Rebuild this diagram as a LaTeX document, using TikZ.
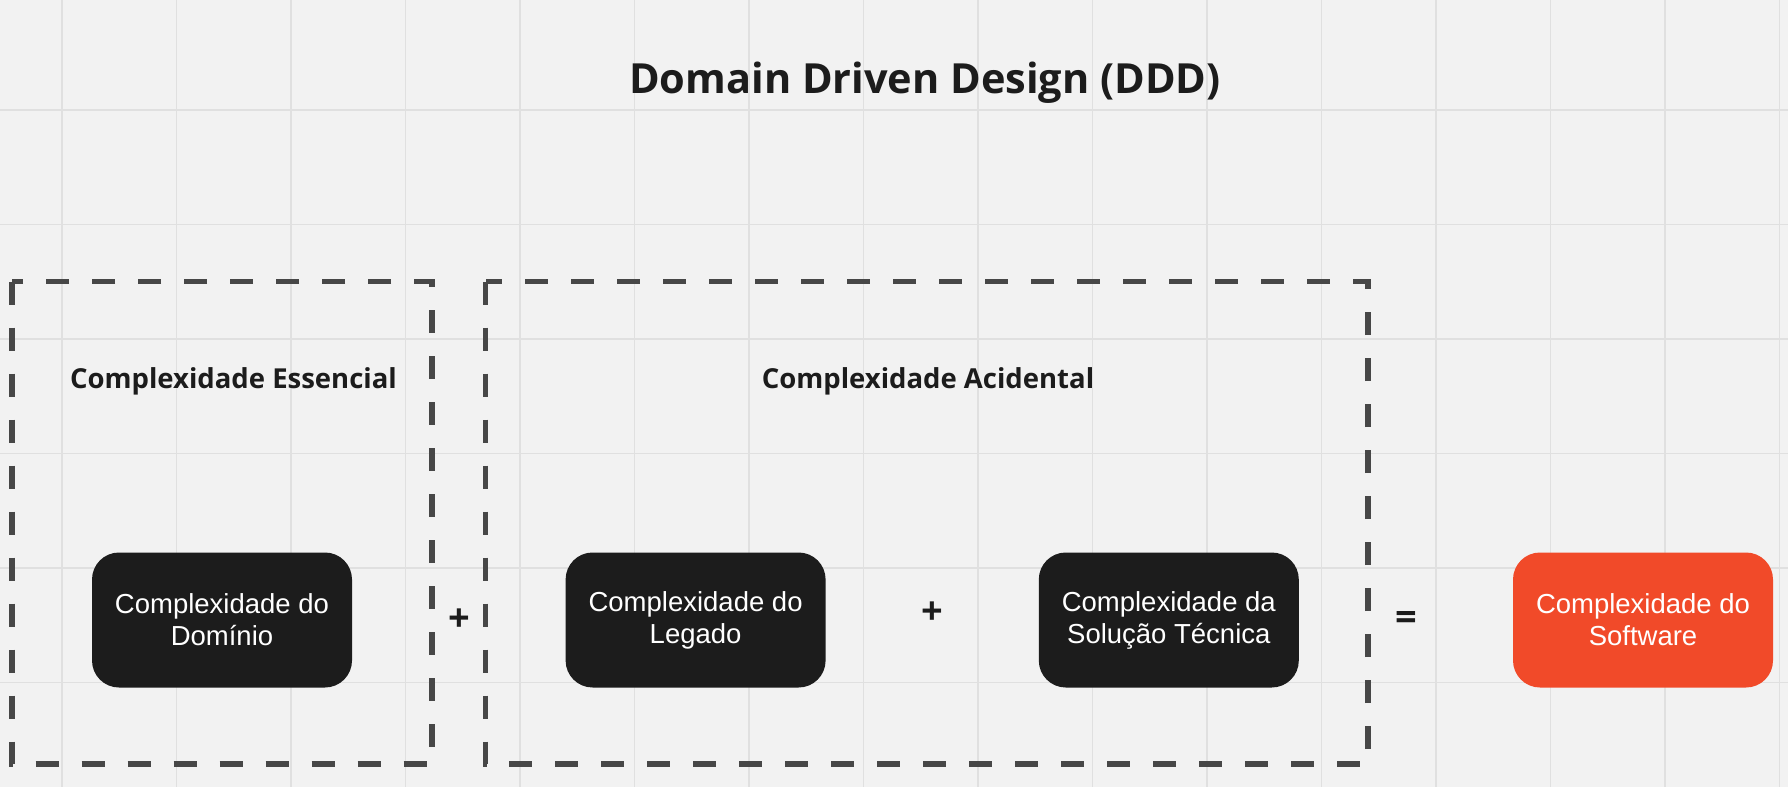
\documentclass[tikz,border=0pt]{standalone}
\usepackage{fontspec}
\setmainfont{Liberation Sans}
\newfontfamily\headfont{Open Sans}
\begin{document}
\begin{tikzpicture}[x=1pt,y=-1pt,
  gridline/.style={draw=black!12, line width=1.5pt},
  dashbox/.style={draw=black!72, line width=5.5pt, dash pattern=on 23pt off 23pt},
  cbox/.style={rounded corners=27pt, minimum width=260pt, minimum height=135pt,
     align=center, text=white, font=\fontsize{27.5}{32}\selectfont, inner sep=0pt},
  darkbox/.style={cbox, fill=black!89},
  orangebox/.style={cbox, fill={rgb,255:red,241;green,74;blue,41}},
  heading/.style={font=\headfont\bfseries\fontsize{27.5}{34}\selectfont, text=black!89},
  opsign/.style={font=\headfont\bfseries\fontsize{38}{40}\selectfont, text=black!89, inner sep=0pt}
]
\fill[black!5] (0,0) rectangle (1788,787);
\useasboundingbox (0,0) rectangle (1788,787);
\foreach \k in {0,...,15}
  \draw[gridline] ({61.8+114.5*\k},0) -- ({61.8+114.5*\k},787);
\foreach \k in {0,...,5}
  \draw[gridline] (0,{109.8+114.5*\k}) -- (1788,{109.8+114.5*\k});

\node[font=\headfont\bfseries\fontsize{41.5}{50}\selectfont, text=black!89, anchor=base] (title) at (925,93) {Domain Driven Design (DDD)};

\draw[dashbox] (12,281.5) rectangle (432,764);
\draw[dashbox] (485.5,281.5) rectangle (1368,764);

\node[heading, anchor=base] (ess) at (233.5,388) {Complexidade Essencial};
\node[heading, anchor=base] (aci) at (928,388) {Complexidade Acidental};

\node[darkbox] (dom) at (222,620) {Complexidade do\\Domínio};
\node[darkbox] (leg) at (695.6,620) {Complexidade do\\Legado};
\node[darkbox] (sol) at (1168.8,620) {Complexidade da\\Solução Técnica};
\node[orangebox] (sw) at (1643,620) {Complexidade do\\Software};

\node[opsign] (p1) at (459,620) {+};
\node[opsign] (p2) at (932,612.7) {+};
\node[opsign] (eq) at (1406,620.5) {=};
\end{tikzpicture}
\end{document}
